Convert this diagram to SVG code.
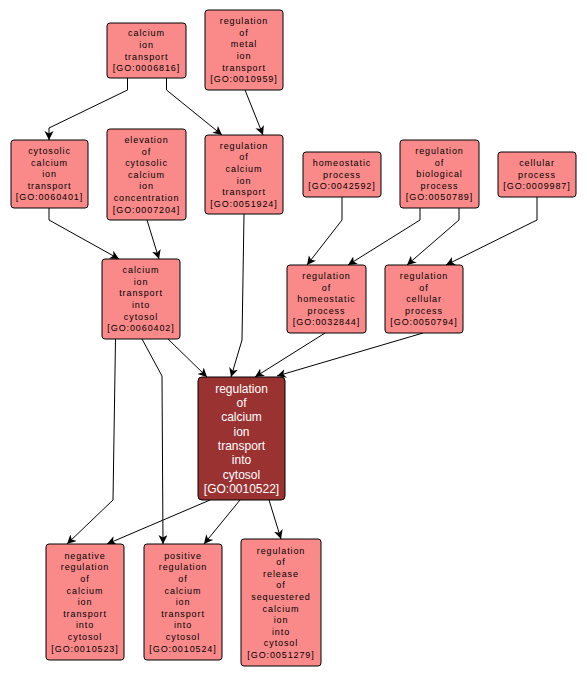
<svg xmlns="http://www.w3.org/2000/svg" width="587" height="678" viewBox="0 0 587 678">
<style>
.n rect{fill:#fa8a8a;stroke:#000;stroke-width:1}
.n text{font-family:"Liberation Sans",Arial,sans-serif;font-size:9px;letter-spacing:0.9px;text-anchor:middle;fill:#000}
.m rect{fill:#9b3232;stroke:#000;stroke-width:1}
.m text{font-family:"Liberation Sans",Arial,sans-serif;font-size:12px;text-anchor:middle;fill:#fff}
.e path{fill:none;stroke:#000;stroke-width:1;marker-end:url(#a)}
</style>
<defs>
<marker id="a" markerUnits="userSpaceOnUse" markerWidth="10" markerHeight="10" refX="9" refY="4.5" orient="auto">
<path d="M0,0 L9,4.5 L0,9 L2.5,4.5 z" fill="#000"/>
</marker>
</defs>
<rect width="587" height="678" fill="#fff"/>
<g id="edges" class="e">
<path d="M127.5,78 L127.5,90 L49,128 L49,140"/>
<path d="M166.5,78 L166.5,90 L222,135"/>
<path d="M245,90 L263,135"/>
<path d="M49,208 L49,220 L119,259"/>
<path d="M147,220 L159,259"/>
<path d="M244,214 L242,340 L231,377"/>
<path d="M168,339 L207,377"/>
<path d="M325,333 L255,377"/>
<path d="M423,333 L277,376"/>
<path d="M342,197 L342,220 L307,265"/>
<path d="M420,208 L420,220 L348,265"/>
<path d="M459,208 L459,220 L407,265"/>
<path d="M537,197 L537,220 L446,265"/>
<path d="M115.5,339 L113,500 L67,544"/>
<path d="M142,339 L162,376 L163,544"/>
<path d="M210,500 L107,544"/>
<path d="M240,500 L204,544"/>
<path d="M269,500 L281,539"/>
</g>
<g id="GO0006816" class="n"><rect x="107" y="23" width="79" height="55" rx="3"/>
<text x="146.5" y="36.3"><tspan x="146.5">calcium</tspan><tspan x="146.5" dy="11.6">ion</tspan><tspan x="146.5" dy="11.6">transport</tspan><tspan x="146.5" dy="11.6">[GO:0006816]</tspan></text></g>
<g id="GO0010959" class="n"><rect x="205" y="10" width="78" height="80" rx="3"/>
<text x="244" y="24.2"><tspan x="244">regulation</tspan><tspan x="244" dy="11.6">of</tspan><tspan x="244" dy="11.6">metal</tspan><tspan x="244" dy="11.6">ion</tspan><tspan x="244" dy="11.6">transport</tspan><tspan x="244" dy="11.6">[GO:0010959]</tspan></text></g>
<g id="GO0060401" class="n"><rect x="11" y="140" width="77" height="68" rx="3"/>
<text x="49.5" y="154"><tspan x="49.5">cytosolic</tspan><tspan x="49.5" dy="11.6">calcium</tspan><tspan x="49.5" dy="11.6">ion</tspan><tspan x="49.5" dy="11.6">transport</tspan><tspan x="49.5" dy="11.6">[GO:0060401]</tspan></text></g>
<g id="GO0007204" class="n"><rect x="107" y="129" width="79" height="91" rx="3"/>
<text x="146.5" y="142.9"><tspan x="146.5">elevation</tspan><tspan x="146.5" dy="11.6">of</tspan><tspan x="146.5" dy="11.6">cytosolic</tspan><tspan x="146.5" dy="11.6">calcium</tspan><tspan x="146.5" dy="11.6">ion</tspan><tspan x="146.5" dy="11.6">concentration</tspan><tspan x="146.5" dy="11.6">[GO:0007204]</tspan></text></g>
<g id="GO0051924" class="n"><rect x="205" y="135" width="78" height="79" rx="3"/>
<text x="244" y="148.7"><tspan x="244">regulation</tspan><tspan x="244" dy="11.6">of</tspan><tspan x="244" dy="11.6">calcium</tspan><tspan x="244" dy="11.6">ion</tspan><tspan x="244" dy="11.6">transport</tspan><tspan x="244" dy="11.6">[GO:0051924]</tspan></text></g>
<g id="GO0042592" class="n"><rect x="303" y="152" width="78" height="45" rx="3"/>
<text x="342" y="166.1"><tspan x="342">homeostatic</tspan><tspan x="342" dy="11.6">process</tspan><tspan x="342" dy="11.6">[GO:0042592]</tspan></text></g>
<g id="GO0050789" class="n"><rect x="400" y="140" width="79" height="68" rx="3"/>
<text x="439.5" y="154"><tspan x="439.5">regulation</tspan><tspan x="439.5" dy="11.6">of</tspan><tspan x="439.5" dy="11.6">biological</tspan><tspan x="439.5" dy="11.6">process</tspan><tspan x="439.5" dy="11.6">[GO:0050789]</tspan></text></g>
<g id="GO0009987" class="n"><rect x="498" y="152" width="78" height="45" rx="3"/>
<text x="537" y="166.1"><tspan x="537">cellular</tspan><tspan x="537" dy="11.6">process</tspan><tspan x="537" dy="11.6">[GO:0009987]</tspan></text></g>
<g id="GO0060402" class="n"><rect x="102" y="259" width="78" height="80" rx="3"/>
<text x="141" y="273.2"><tspan x="141">calcium</tspan><tspan x="141" dy="11.6">ion</tspan><tspan x="141" dy="11.6">transport</tspan><tspan x="141" dy="11.6">into</tspan><tspan x="141" dy="11.6">cytosol</tspan><tspan x="141" dy="11.6">[GO:0060402]</tspan></text></g>
<g id="GO0032844" class="n"><rect x="287" y="265" width="79" height="68" rx="3"/>
<text x="326.5" y="279"><tspan x="326.5">regulation</tspan><tspan x="326.5" dy="11.6">of</tspan><tspan x="326.5" dy="11.6">homeostatic</tspan><tspan x="326.5" dy="11.6">process</tspan><tspan x="326.5" dy="11.6">[GO:0032844]</tspan></text></g>
<g id="GO0050794" class="n"><rect x="385" y="265" width="78" height="68" rx="3"/>
<text x="424" y="279"><tspan x="424">regulation</tspan><tspan x="424" dy="11.6">of</tspan><tspan x="424" dy="11.6">cellular</tspan><tspan x="424" dy="11.6">process</tspan><tspan x="424" dy="11.6">[GO:0050794]</tspan></text></g>
<g id="GO0010522" class="m"><rect x="198" y="377" width="87" height="123" rx="4"/>
<text x="241.5" y="392.8"><tspan x="241.5">regulation</tspan><tspan x="241.5" dy="14.3">of</tspan><tspan x="241.5" dy="14.3">calcium</tspan><tspan x="241.5" dy="14.3">ion</tspan><tspan x="241.5" dy="14.3">transport</tspan><tspan x="241.5" dy="14.3">into</tspan><tspan x="241.5" dy="14.3">cytosol</tspan><tspan x="241.5" dy="14.3">[GO:0010522]</tspan></text></g>
<g id="GO0010523" class="n"><rect x="46" y="544" width="78" height="116" rx="3"/>
<text x="85" y="558.8"><tspan x="85">negative</tspan><tspan x="85" dy="11.6">regulation</tspan><tspan x="85" dy="11.6">of</tspan><tspan x="85" dy="11.6">calcium</tspan><tspan x="85" dy="11.6">ion</tspan><tspan x="85" dy="11.6">transport</tspan><tspan x="85" dy="11.6">into</tspan><tspan x="85" dy="11.6">cytosol</tspan><tspan x="85" dy="11.6">[GO:0010523]</tspan></text></g>
<g id="GO0010524" class="n"><rect x="144" y="544" width="78" height="116" rx="3"/>
<text x="183" y="558.8"><tspan x="183">positive</tspan><tspan x="183" dy="11.6">regulation</tspan><tspan x="183" dy="11.6">of</tspan><tspan x="183" dy="11.6">calcium</tspan><tspan x="183" dy="11.6">ion</tspan><tspan x="183" dy="11.6">transport</tspan><tspan x="183" dy="11.6">into</tspan><tspan x="183" dy="11.6">cytosol</tspan><tspan x="183" dy="11.6">[GO:0010524]</tspan></text></g>
<g id="GO0051279" class="n"><rect x="241" y="539" width="80" height="127" rx="3"/>
<text x="281" y="553.5"><tspan x="281">regulation</tspan><tspan x="281" dy="11.6">of</tspan><tspan x="281" dy="11.6">release</tspan><tspan x="281" dy="11.6">of</tspan><tspan x="281" dy="11.6">sequestered</tspan><tspan x="281" dy="11.6">calcium</tspan><tspan x="281" dy="11.6">ion</tspan><tspan x="281" dy="11.6">into</tspan><tspan x="281" dy="11.6">cytosol</tspan><tspan x="281" dy="11.6">[GO:0051279]</tspan></text></g>
</svg>
